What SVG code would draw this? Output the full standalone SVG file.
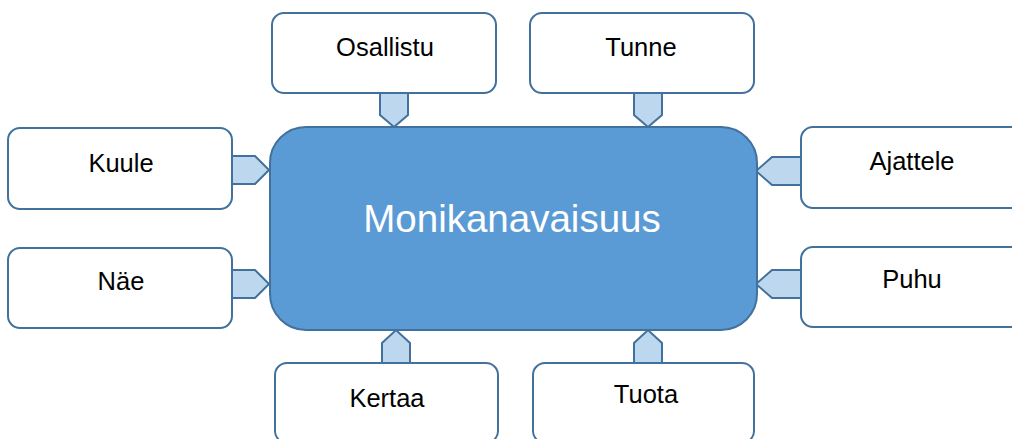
<svg xmlns="http://www.w3.org/2000/svg" width="1012" height="439" viewBox="0 0 1012 439">
<style>
.box{fill:#ffffff;stroke:#41719c;stroke-width:2}
.hub{fill:#5b9bd5;stroke:#41719c;stroke-width:2}
.arr{fill:#bdd7ee;stroke:#41719c;stroke-width:2;stroke-linejoin:miter}
.lbl{font-family:"Liberation Sans",Arial,sans-serif;font-size:25.5px;fill:#000;text-anchor:middle}
.hubt{font-family:"Liberation Sans",Arial,sans-serif;font-size:38.5px;fill:#fff;text-anchor:middle}
</style>
<rect width="1012" height="439" fill="#ffffff"/>
<g id="connectors">
<polygon class="arr" points="380,93 408,93 408,115 394,127 380,115"/>
<polygon class="arr" points="634,93 662,93 662,115 648,127 634,115"/>
<polygon class="arr" points="232,156 255,156 269,170 255,184 232,184"/>
<polygon class="arr" points="232,270 255,270 269,284 255,298 232,298"/>
<polygon class="arr" points="801,157 772,157 756,171 772,185 801,185"/>
<polygon class="arr" points="801,270 772,270 756,284 772,298 801,298"/>
<polygon class="arr" points="382,363 382,343 396,330 410,343 410,363"/>
<polygon class="arr" points="634,363 634,343 648,330 662,343 662,363"/>
</g>
<g id="hub">
<rect class="hub" x="270" y="127" width="487" height="203" rx="36"/>
<text class="hubt" x="512" y="232">Monikanavaisuus</text>
</g>
<g id="osallistu">
<rect class="box" x="272" y="13" width="224" height="80" rx="12"/>
<text class="lbl" x="385" y="56">Osallistu</text>
</g>
<g id="tunne">
<rect class="box" x="530" y="13" width="224" height="80" rx="12"/>
<text class="lbl" x="641" y="56">Tunne</text>
</g>
<g id="kuule">
<rect class="box" x="8" y="128" width="224" height="81" rx="12"/>
<text class="lbl" x="121" y="172">Kuule</text>
</g>
<g id="nae">
<rect class="box" x="8" y="248" width="224" height="80" rx="12"/>
<text class="lbl" x="121" y="290">Näe</text>
</g>
<g id="ajattele">
<rect class="box" x="801" y="127" width="224" height="81" rx="12"/>
<text class="lbl" x="912" y="170">Ajattele</text>
</g>
<g id="puhu">
<rect class="box" x="801" y="247" width="224" height="80" rx="12"/>
<text class="lbl" x="912" y="288">Puhu</text>
</g>
<g id="kertaa">
<rect class="box" x="275" y="363" width="223" height="80" rx="12"/>
<text class="lbl" x="387" y="407">Kertaa</text>
</g>
<g id="tuota">
<rect class="box" x="533" y="363" width="221" height="80" rx="12"/>
<text class="lbl" x="646" y="403">Tuota</text>
</g>
</svg>
